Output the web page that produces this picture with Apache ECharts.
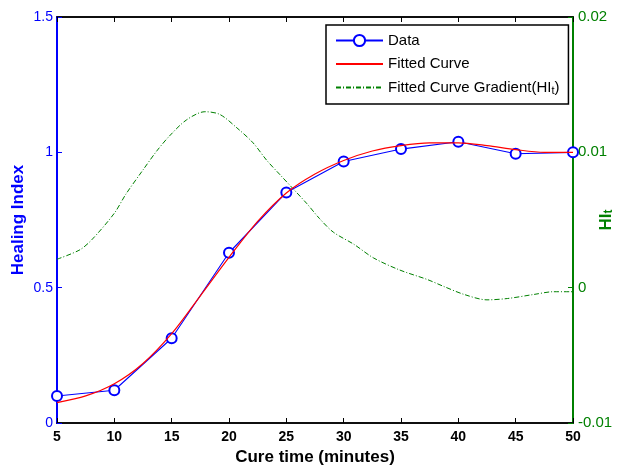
<!DOCTYPE html>
<html>
<head>
<meta charset="utf-8">
<script src="https://cdn.jsdelivr.net/npm/echarts@6/dist/echarts.min.js"></script>
<style>
  html, body { margin: 0; padding: 0; background: #fff; }
  #chart { width: 622px; height: 468px; }
</style>
</head>
<body>
<div id="chart"></div>
<script>
// measured data points (cure time, healing index)
const cureTimes = [5, 10, 15, 20, 25, 30, 35, 40, 45, 50];
const healingIndex = [0.10, 0.121, 0.313, 0.629, 0.852, 0.966, 1.012, 1.039, 0.995, 1.0];

// fitted curve
const fitTimes = [5, 7.5, 10, 12.5, 15, 17.5, 20, 22.5, 25, 27.5, 30, 32.5, 35, 37.5, 40, 42.5, 45, 47.5, 50];
const fitValues = [0.075, 0.10, 0.145, 0.22, 0.33, 0.47, 0.612, 0.745, 0.85, 0.92, 0.97, 1.005, 1.025, 1.035, 1.035, 1.025, 1.01, 1.0, 1.0];

// gradient of the fitted curve (right axis)
const gradTimes = [5, 7, 8.1, 10, 11, 12.5, 13.7, 14.8, 16.3, 17.9, 19.2, 20.7, 22.1, 23.3, 24.5, 25.6, 26.8, 27.9, 29.1, 30.9, 32.6, 34.9, 37.3, 38.7, 40.5, 42.5, 44.3, 46.6, 48.3, 50];
const gradValues = [0.0021, 0.0028, 0.0036, 0.0055, 0.0069, 0.0087, 0.0101, 0.0112, 0.0124, 0.0130, 0.0128, 0.0118, 0.0107, 0.0094, 0.0083, 0.0073, 0.0062, 0.0051, 0.0041, 0.0032, 0.0022, 0.0013, 0.0006, 0.0001, -0.0005, -0.0009, -0.0008, -0.0005, -0.0003, -0.0003];

const BLUE = '#0000ff';
const GREEN = '#008000';
const FONT = 'Liberation Sans, Arial, sans-serif';

const zip = (xs, ys) => xs.map((x, i) => [x, ys[i]]);

document.addEventListener('DOMContentLoaded', () => {
  const chart = echarts.init(document.getElementById('chart'));

  const option = {
    animation: false,
    backgroundColor: '#fff',
    textStyle: { fontFamily: FONT },
    grid: {
      left: 57, right: 49, top: 17, bottom: 45,
      outerBoundsMode: 'none',
      show: true, borderColor: '#000', borderWidth: 1.5, backgroundColor: 'transparent'
    },
    legend: {
      orient: 'vertical',
      left: 326, top: 25,
      padding: [7, 9, 8, 9],
      itemGap: 6.5,
      itemWidth: 47,
      itemHeight: 14,
      backgroundColor: '#fff',
      borderColor: '#000',
      borderWidth: 1.5,
      borderRadius: 0,
      textStyle: {
        fontFamily: FONT, fontSize: 15, color: '#000', lineHeight: 17,
        rich: { sub: { fontSize: 11, lineHeight: 9, verticalAlign: 'bottom' } }
      },
      formatter: name => name === 'Fitted Curve Gradient(HIt)' ? 'Fitted Curve Gradient(HI{sub|t})' : name,
      data: [
        'Data',
        { name: 'Fitted Curve', itemStyle: { opacity: 0 } },
        { name: 'Fitted Curve Gradient(HIt)', itemStyle: { opacity: 0 } }
      ]
    },
    xAxis: [{
      type: 'value', min: 5, max: 50, interval: 5,
      name: 'Cure time (minutes)', nameLocation: 'middle', nameGap: 26, nameMoveOverlap: false,
      nameTextStyle: { fontFamily: FONT, fontSize: 17, fontWeight: 'bold', color: '#000' },
      axisLine: { show: true, onZero: false, lineStyle: { color: '#000', width: 1.5 } },
      axisTick: { show: true, inside: true, length: 5, lineStyle: { color: '#000' } },
      axisLabel: { margin: 7, fontFamily: FONT, fontSize: 14, fontWeight: 'bold', color: '#000' },
      splitLine: { show: false }
    }, {
      type: 'value', min: 5, max: 50, interval: 5, position: 'top',
      axisLine: { show: true, onZero: false, lineStyle: { color: '#000', width: 1.5 } },
      axisTick: { show: true, inside: true, length: 5, lineStyle: { color: '#000' } },
      axisLabel: { show: false },
      splitLine: { show: false }
    }],
    yAxis: [{
      type: 'value', min: 0, max: 1.5, interval: 0.5, position: 'left',
      name: 'Healing Index', nameLocation: 'middle', nameGap: 30, nameRotate: 90, nameMoveOverlap: false,
      nameTextStyle: { fontFamily: FONT, fontSize: 17, fontWeight: 'bold', color: BLUE },
      axisLine: { show: true, onZero: false, lineStyle: { color: BLUE, width: 2 } },
      axisTick: { show: true, inside: true, length: 5, lineStyle: { color: BLUE } },
      axisLabel: { margin: 4, fontFamily: FONT, fontSize: 14, color: BLUE,
        formatter: v => String(v) },
      splitLine: { show: false }
    }, {
      type: 'value', min: -0.01, max: 0.02, interval: 0.01, position: 'right',
      name: 'HI{sub|t}', nameLocation: 'middle', nameGap: 24, nameRotate: 90, nameMoveOverlap: false,
      nameTextStyle: { fontFamily: FONT, fontSize: 17, fontWeight: 'bold', color: GREEN, lineHeight: 18,
        rich: { sub: { fontSize: 12, fontWeight: 'bold', color: GREEN, lineHeight: 8, verticalAlign: 'bottom' } } },
      axisLine: { show: true, onZero: false, lineStyle: { color: GREEN, width: 2 } },
      axisTick: { show: true, inside: true, length: 5, lineStyle: { color: GREEN } },
      axisLabel: { margin: 5, fontFamily: FONT, fontSize: 15, color: GREEN,
        formatter: v => String(Math.round(v * 100) / 100) },
      splitLine: { show: false }
    }],
    series: [{
      name: 'Fitted Curve Gradient(HIt)',
      type: 'line', xAxisIndex: 0, yAxisIndex: 1,
      data: zip(gradTimes, gradValues),
      smooth: 0.3, symbol: 'none',
      lineStyle: { color: GREEN, width: 1, type: [5, 2, 1, 2] },
      itemStyle: { color: GREEN },
      z: 2
    }, {
      name: 'Data',
      type: 'line', xAxisIndex: 0, yAxisIndex: 0,
      data: zip(cureTimes, healingIndex),
      symbol: 'emptyCircle', symbolSize: 10, showSymbol: true,
      lineStyle: { color: BLUE, width: 1.1 },
      itemStyle: { color: BLUE, borderColor: BLUE, borderWidth: 1.2 },
      z: 3
    }, {
      name: 'Fitted Curve',
      type: 'line', xAxisIndex: 0, yAxisIndex: 0,
      data: zip(fitTimes, fitValues),
      smooth: 0.3, symbol: 'none',
      lineStyle: { color: '#ff0000', width: 1.2 },
      itemStyle: { color: '#ff0000' },
      z: 4
    }]
  };

  chart.setOption(option);
});
</script>
</body>
</html>
